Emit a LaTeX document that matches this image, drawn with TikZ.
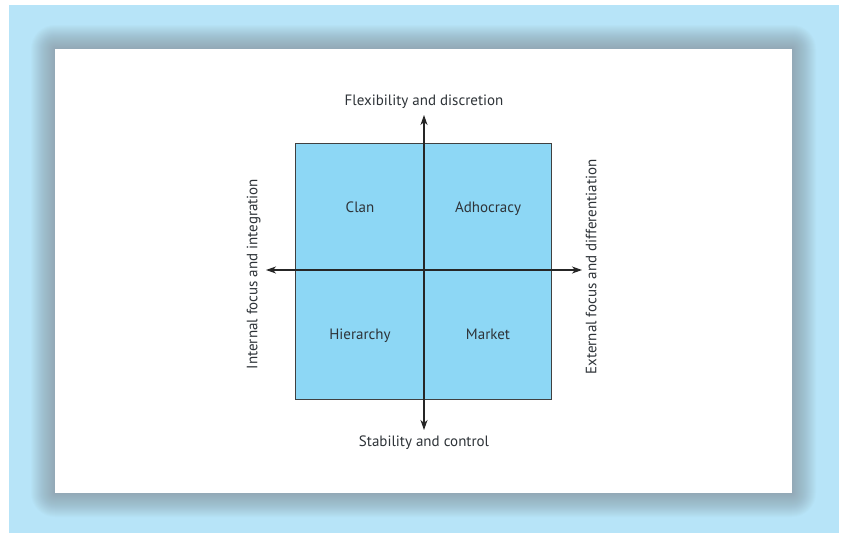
\documentclass[tikz,border=0pt]{standalone}
\usepackage{fontspec}
\setmainfont{PT Sans}
\usetikzlibrary{arrows.meta}
\definecolor{bgblue}{HTML}{B7E4F8}
\definecolor{boxblue}{HTML}{8DD7F5}
\definecolor{shadowgray}{HTML}{80868E}
\definecolor{txt}{HTML}{2E3338}
\tikzset{
  lbl/.style={text=txt, font=\fontsize{15}{17}\selectfont, inner sep=0pt, text height=10.5pt, text depth=0pt},
  axis/.style={line width=1.1pt, draw=black!85, -{Stealth[length=10pt,width=7pt,inset=3pt]}},
}
\begin{document}
\begin{tikzpicture}[x=1pt,y=-1pt]
\useasboundingbox (0,0) rectangle (843,533);
\fill[white] (0,0) rectangle (843,533);
\fill[bgblue] (9,5) rectangle (839,533);
% shadow
\foreach \i in {1,...,24}{
  \fill[shadowgray, opacity=0.032, rounded corners=\i pt] (55-\i,49-\i) rectangle (792+\i,493+\i);
}
\fill[white] (55,49) rectangle (792,493);
% box
\node[draw=black!75, fill=boxblue, line width=0.6pt, minimum width=256pt, minimum height=256pt, inner sep=0pt] (box) at (423,271) {};
\coordinate (top) at (424,115);
\coordinate (bot) at (424,430);
\coordinate (left) at (266,270);
\coordinate (right) at (582,270);
\coordinate (c) at (424,270);
\draw[axis] (c) -- (top);
\draw[axis] (c) -- (bot);
\draw[axis] (c) -- (left);
\draw[axis] (c) -- (right);
\node[lbl] (flex) at (424,100) {Flexibility and discretion};
\node[lbl] (stab) at (424,441) {Stability and control};
\node[lbl, rotate=90] (intl) at (252,274) {Internal focus and integration};
\node[lbl, rotate=90] (extl) at (591,267) {External focus and differentiation};
\node[lbl] (clan) at (360,207) {Clan};
\node[lbl] (adho) at (488,207) {Adhocracy};
\node[lbl] (hier) at (360,334) {Hierarchy};
\node[lbl] (mark) at (488,334) {Market};
\end{tikzpicture}
\end{document}
